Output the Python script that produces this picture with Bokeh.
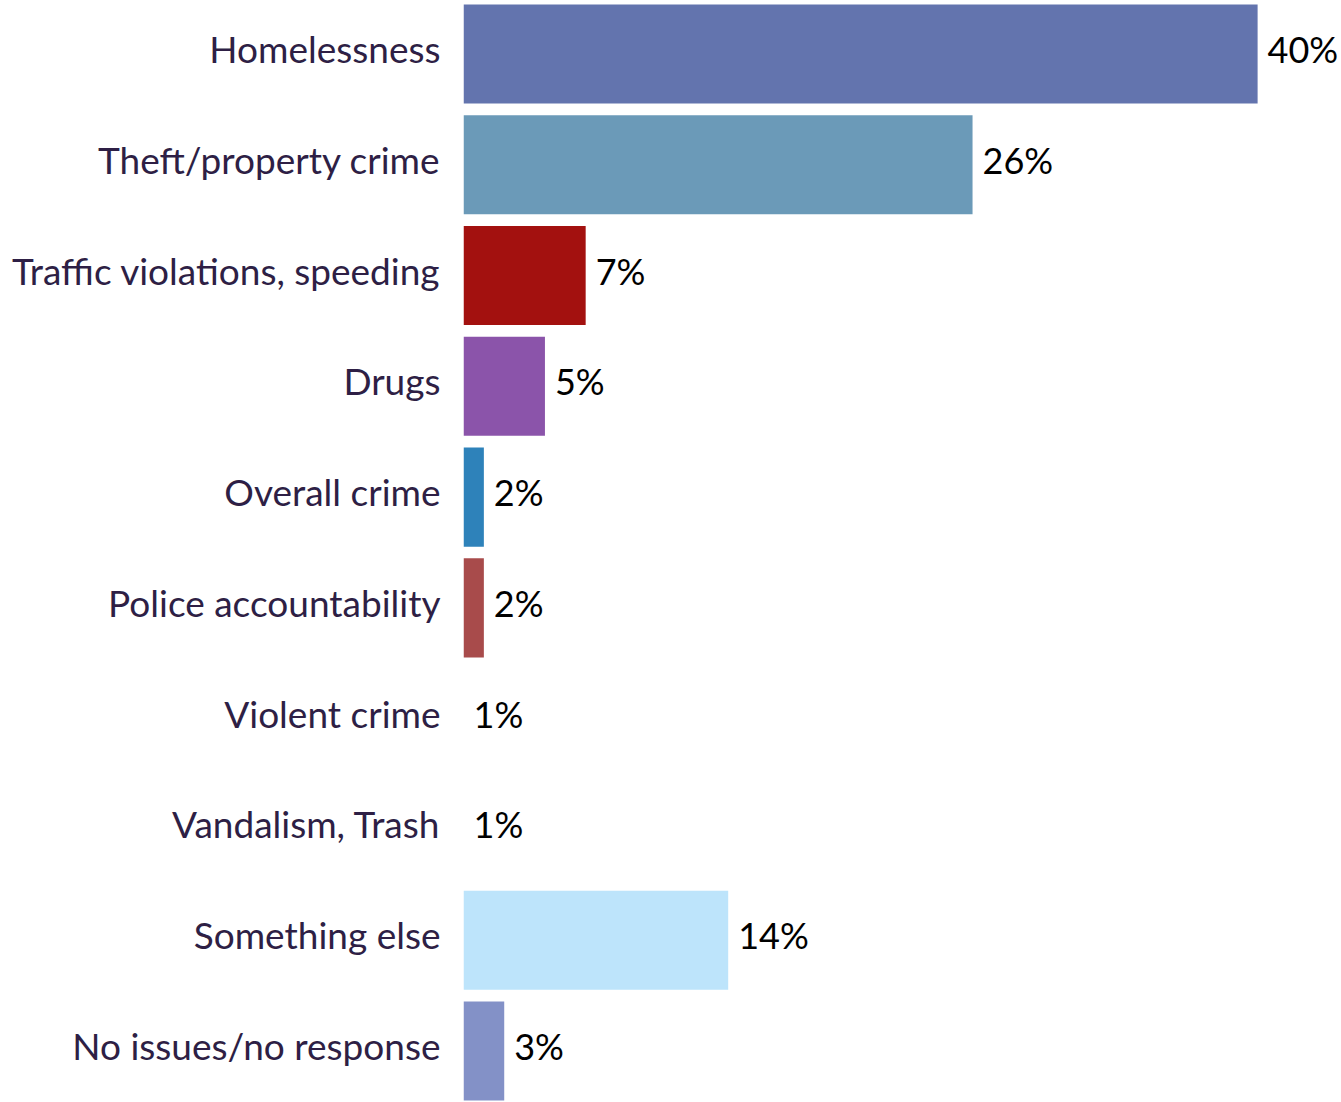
from bokeh.plotting import figure
from bokeh.models import ColumnDataSource, FixedTicker, Range1d, CustomJSTickFormatter
from bokeh.core.properties import value
from bokeh.embed import file_html
from bokeh.resources import INLINE

categories = ["Homelessness", "Theft/property crime", "Traffic violations, speeding", "Drugs",
              "Overall crime", "Police accountability", "Violent crime", "Vandalism, Trash",
              "Something else", "No issues/no response"]
values = [40, 26, 7, 5, 2, 2, 1, 1, 14, 3]
labels = ["40%", "26%", "7%", "5%", "2%", "2%", "1%", "1%", "14%", "3%"]
colors = ["#6374AE", "#6B9AB8", "#A3110F", "#8B54AA", "#2E82BA", "#A84B4B",
          "#5B6FA8", "#7A8FB8", "#BDE4FB", "#8391C7"]

pos = list(range(len(categories)))
src = ColumnDataSource(dict(y=pos, v=values, lab=labels, c=colors))

FONT = "Lato"
p = figure(width=1341, height=1102, output_backend="svg", toolbar_location=None,
           x_range=Range1d(1, 44.12), y_range=Range1d(9.465, -0.483),
           min_border_left=463, min_border_right=0, min_border_top=0, min_border_bottom=0)
p.hbar(y="y", left=1, right="v", height=0.894, fill_color="c", line_color=None, source=src)
p.text(x="v", y="y", text="lab", source=src, x_offset=10, y_offset=-5, text_baseline="middle",
       text_font=value(FONT), text_font_size="36px", text_color="#000000")

p.outline_line_color = None
p.grid.visible = False
p.xaxis.visible = False
ya = p.yaxis[0]
ya.ticker = FixedTicker(ticks=[i - 0.05 for i in pos])
ya.formatter = CustomJSTickFormatter(args=dict(cats=categories),
                                     code="return cats[Math.round(tick)];")
ya.axis_line_color = None
ya.major_tick_line_color = None
ya.minor_tick_line_color = None
ya.major_tick_out = 0
ya.major_tick_in = 0
ya.major_label_standoff = 23
ya.major_label_text_font = FONT
ya.major_label_text_font_size = "37px"
ya.major_label_text_color = "#2E1F45"

open("out.html", "w").write(file_html(p, INLINE))
